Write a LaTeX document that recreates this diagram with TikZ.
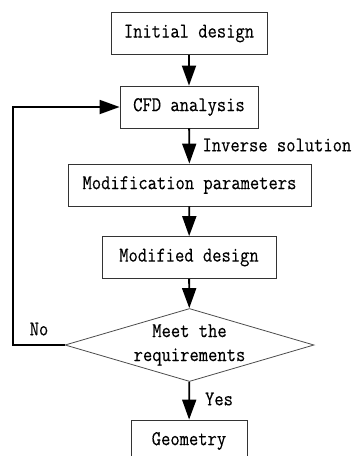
\documentclass[tikz,border=0pt]{standalone}
\usepackage{fontspec}
\usetikzlibrary{arrows.meta,positioning,shapes.geometric}
\newfontfamily\flowfont[FakeBold=0.3,FakeStretch=0.86]{Latin Modern Mono}
\tikzset{
  flowbox/.style={draw=black!80, line width=.8pt, inner sep=0pt, minimum height=42},
  decision/.style={diamond, draw=black!70, line width=.8pt, inner sep=0pt,
    minimum width=249, minimum height=73},
  flow/.style={line width=1.8pt, -{Triangle[length=20pt,width=14pt]}},
}

\begin{document}
\begin{tikzpicture}[x=1pt,y=-1pt,font=\flowfont\fontsize{21}{24}\selectfont]
    \useasboundingbox (0,0) rectangle (353,456);
    \node[flowbox, minimum width=156] (init)   at (189,33.5) {Initial design};
    \node[flowbox, minimum width=138] (cfd)    at (189,107)  {CFD analysis};
    \node[flowbox, minimum width=243] (modpar) at (189.5,185) {Modification parameters};
    \node[flowbox, minimum width=174] (moddes) at (189,257.5) {Modified design};
    \node[decision] (meet) at (189.5,345) {};
    \node[align=center] (meettxt) at (meet) {Meet the\\requirements};
    \node[flowbox, minimum width=116] (geom)   at (189,441)  {Geometry};
    \coordinate (back) at (13,345);
    % main line
    \draw[flow] (init) -- (cfd);
    \draw[flow] (cfd) -- (modpar);
    \draw[flow] (modpar) -- (moddes);
    \draw[flow] (moddes) -- (meet);
    \draw[flow] (meet) -- (geom);
    % loop back
    \draw[flow] (meet.west) -- (back) |- (cfd.west);
    \node[anchor=west] (inv) at (199,145) {Inverse solution};
    \node (no)  at (39,329) {No};
    \node (yes) at (219,399) {Yes};
  \end{tikzpicture}
\end{document}
